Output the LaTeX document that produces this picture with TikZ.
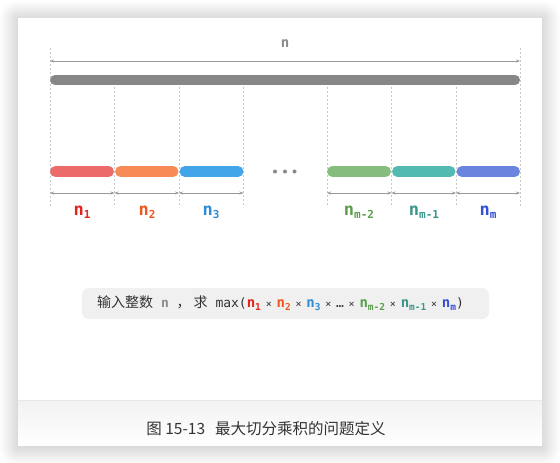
\documentclass[tikz,border=0pt]{standalone}
\usepackage{fontspec}
\setmainfont{Liberation Sans}
\newfontfamily\cjk{Noto Sans CJK SC}
\newfontfamily\mono{DejaVu Sans Mono}
\usetikzlibrary{arrows.meta}
\definecolor{bargray}{HTML}{878787}
\definecolor{dimgray}{HTML}{999999}
\definecolor{tickgray}{HTML}{C8C8C8}
\definecolor{txtgray}{HTML}{8A8A8A}
\definecolor{boxgray}{HTML}{F0F0F0}
\definecolor{darktxt}{HTML}{333333}
\definecolor{barA}{HTML}{ED6A6A}\definecolor{txtA}{HTML}{E5231B}
\definecolor{barB}{HTML}{F88B55}\definecolor{txtB}{HTML}{F0571F}
\definecolor{barC}{HTML}{42A5EA}\definecolor{txtC}{HTML}{2D8CD5}
\definecolor{barD}{HTML}{86BC7E}\definecolor{txtD}{HTML}{5A9E4E}
\definecolor{barE}{HTML}{52BAB0}\definecolor{txtE}{HTML}{3A968B}
\definecolor{barF}{HTML}{6B85DF}\definecolor{txtF}{HTML}{3450D5}
\newcommand{\biglab}[2]{{\color{#1}\mono\bfseries\fontsize{17}{17}\selectfont n\raisebox{-3.5pt}{\fontsize{11}{11}\selectfont #2}}}
\newcommand{\smlab}[2]{{\color{#1}\mono\bfseries\fontsize{14}{14}\selectfont n\raisebox{-3pt}{\fontsize{9.5}{9.5}\selectfont #2}}}
\newcommand{\tms}{{\color{darktxt}\mono\fontsize{10}{13}\selectfont\hspace{4.8pt}×\hspace{4.8pt}}}
\begin{document}
\begin{tikzpicture}[x=1pt,y=-1pt,
  seg/.style={line width=11pt, line cap=round},
  dimarrow/.style={dimgray, line width=0.8pt, {Stealth[length=4pt,width=3pt]}-{Stealth[length=4pt,width=3pt]}},
  tick/.style={tickgray, line width=0.6pt, dash pattern=on 2pt off 2pt},
  lab/.style={inner sep=0pt, anchor=base}]
\useasboundingbox (0,0) rectangle (560,463);
\fill[white] (0,0) rectangle (560,463);
% shadow
\foreach \i in {1,...,18}{
  \fill[black, opacity=0.0065, rounded corners=\i pt] (18-\i,19-\i) rectangle (542+\i,447+\i);
}
% card
\fill[white] (18,18) rectangle (542,445);
\shade[top color=black!5, bottom color=white] (18,400) rectangle (542,445);
\draw[black!9, line width=0.8pt] (18,400) -- (542,400);
% coordinates
\foreach \x [count=\i from 0] in {50,114.5,179,243.5,327,391.5,456,520}{
  \coordinate (top\i) at (\x,87);
  \coordinate (bot\i) at (\x,207);
  \coordinate (arr\i) at (\x,193);
  \coordinate (s\i) at (\x,171.5);
}
\coordinate (ttopL) at (50,48);
\coordinate (ttopR) at (520,48);
\coordinate (dimL) at (50,61);
\coordinate (dimR) at (520,61);
% ticks
\draw[tick] (ttopL) -- (bot0);
\draw[tick] (ttopR) -- (bot7);
\foreach \i in {1,...,6}{ \draw[tick] (top\i) -- (bot\i); }
% top dimension
\node[inner sep=0pt, text=txtgray] (ntop) at (285,44) {\mono\bfseries\fontsize{14}{14}\selectfont n};
\draw[dimarrow] (dimL) -- (dimR);
% full bar
\coordinate (barL) at (55,80);
\coordinate (barR) at (515,80);
\draw[line width=10pt, line cap=round, bargray] (barL) -- (barR);
% segments
\draw[seg, barA] ([xshift=5.5pt]s0) -- ([xshift=-6pt]s1);
\draw[seg, barB] ([xshift=6pt]s1) -- ([xshift=-6pt]s2);
\draw[seg, barC] ([xshift=6pt]s2) -- ([xshift=-5.5pt]s3);
\draw[seg, barD] ([xshift=5.5pt]s4) -- ([xshift=-6pt]s5);
\draw[seg, barE] ([xshift=6pt]s5) -- ([xshift=-6pt]s6);
\draw[seg, barF] ([xshift=6pt]s6) -- ([xshift=-5.5pt]s7);
% dots
\foreach \x [count=\k] in {275,285,294.5}{
  \fill[bargray] (\x,171.5) circle (2) coordinate (dot\k);
}
% segment dimension arrows
\draw[dimarrow] (arr0) -- (arr1);
\draw[dimarrow] (arr1) -- (arr2);
\draw[dimarrow] (arr2) -- (arr3);
\draw[dimarrow] (arr4) -- (arr5);
\draw[dimarrow] (arr5) -- (arr6);
\draw[dimarrow] (arr6) -- (arr7);
% labels
\node[lab] (l1) at (82,215) {\biglab{txtA}{1}};
\node[lab] (l2) at (147,215) {\biglab{txtB}{2}};
\node[lab] (l3) at (211,215) {\biglab{txtC}{3}};
\node[lab] (l4) at (359,215) {\biglab{txtD}{m-2}};
\node[lab] (l5) at (424,215) {\biglab{txtE}{m-1}};
\node[lab] (l6) at (488,215) {\biglab{txtF}{m}};
% formula box
\node[fill=boxgray, rounded corners=7pt, minimum width=407pt, minimum height=31pt, inner sep=0pt] (box) at (285.5,303.5) {};
\node[inner sep=0pt, text=darktxt, anchor=west] (formula) at (97,303.5) {%
{\cjk\fontsize{14}{15}\selectfont 输入整数}{\mono\fontsize{13}{15}\selectfont\ {\color{txtgray}\bfseries n}\ }{\cjk\fontsize{14}{15}\selectfont ，\hspace{3pt}求}{\mono\fontsize{13}{15}\selectfont\ max(}%
\smlab{txtA}{1}\tms\smlab{txtB}{2}\tms\smlab{txtC}{3}\tms{\mono\fontsize{13}{13}\selectfont …}\tms\smlab{txtD}{m-2}\tms\smlab{txtE}{m-1}\tms\smlab{txtF}{m}{\mono\fontsize{13}{15}\selectfont )}};
% caption
\node[inner sep=0pt, text=darktxt] (cap) at (266,429) {\cjk\fontsize{15.5}{16}\selectfont 图 15-13\hspace{10pt}最大切分乘积的问题定义};
\end{tikzpicture}
\end{document}
